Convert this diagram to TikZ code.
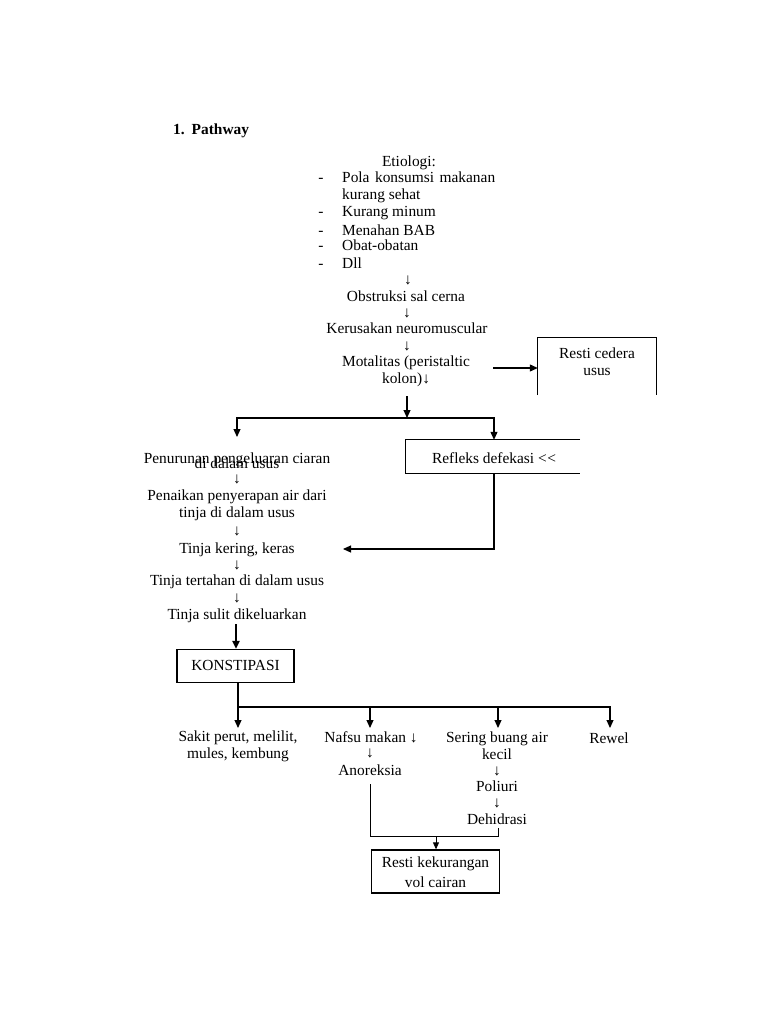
\documentclass[tikz,border=0pt]{standalone}
\usepackage{fontspec}
\setmainfont{Liberation Serif}
\usetikzlibrary{arrows.meta}
\tikzset{
  txtm/.style={inner sep=0pt, font=\fontsize{15.4}{17}\selectfont, align=center},
  txt/.style={txtm, text height=13pt, text depth=3pt},
  ln/.style={line width=1.1pt, line cap=rect},
  arr/.style={line width=1.1pt, -{Triangle[length=8pt,width=7pt]}},
  boxline/.style={line width=1.3pt},
}
\begin{document}
\begin{tikzpicture}[x=1pt,y=-1pt]
\useasboundingbox (0,0) rectangle (768,1024);
\fill[white] (0,0) rectangle (768,1024);

% title
\node[txt, anchor=west] (title) at (173,130) {\textbf{1.\hspace{7pt}Pathway}};

% etiologi
\node[txt] (etio) at (409,162) {Etiologi:};
\foreach \y/\t/\n in {178/{\hbox to 153pt{Pola\hfil konsumsi\hfil makanan}}/e1,
                      195/kurang sehat/e1b,
                      212/Kurang minum/e2,
                      231/Menahan BAB/e3,
                      245/Obat-obatan/e4,
                      263/Dll/e5}{
  \node[txt, anchor=west] (\n) at (342,\y) {\t};
}
\foreach \y/\n in {178/d1,212/d2,231/d3,245/d4,263/d5}{
  \node[txt] (\n) at (321,\y) {-};
}
\node[txt] (a0) at (408,279) {↓};
\node[txt] (obs) at (406,296) {Obstruksi sal cerna};
\node[txt] (a1) at (407,312) {↓};
\node[txt] (ker) at (407,328) {Kerusakan neuromuscular};
\node[txt] (a2) at (407,345) {↓};
\node[txtm] (mot) at (406,371) {Motalitas (peristaltic\\kolon)↓};

% Resti cedera usus box (open bottom)
\node[minimum width=118pt, minimum height=57pt, inner sep=0pt] (rc) at (597,366.5) {};
\draw[boxline] (rc.south west) -- (rc.north west) -- (rc.north east) -- (rc.south east);
\node[txtm] (rct) at (597,362) {Resti cedera\\usus};
\coordinate (mr) at (493,368);
\draw[arr] (mr) -- (rc.west |- mr);

% split
\coordinate (ms) at (407,396);
\coordinate (sp) at (407,418);
\coordinate (spl) at (237,418);
\coordinate (spr) at (494,418);
\draw[arr] (ms) -- (sp);
\draw[ln] (spl) -- (spr);

% Refleks box (open right)
\node[minimum width=174pt, minimum height=33pt, inner sep=0pt] (rf) at (493,456.5) {};
\draw[boxline] (rf.north east) -- (rf.north west) -- (rf.south west) -- (rf.south east);
\node[txt] (rft) at (494,458) {Refleks defekasi <\kern0.5pt<};
\draw[arr] (spr) -- (rf.north -| spr);

% left column
\node[txt] (pen) at (237,458) {Penurunan pengeluaran ciaran};
\node[txt] (pen2) at (237,463) {di dalam usus};
\coordinate (plt) at (237,437);
\draw[arr] (spl) -- (plt);
\node[txt] (b1) at (237,478) {↓};
\node[txtm] (pny) at (237,505) {Penaikan penyerapan air dari\\tinja di dalam usus};
\node[txt] (b2) at (237,530) {↓};
\node[txt] (tkk) at (237,548) {Tinja kering, keras};
\node[txt] (b3) at (237,564) {↓};
\node[txt] (ttd) at (237,580) {Tinja tertahan di dalam usus};
\node[txt] (b4) at (237,597) {↓};
\node[txt] (tsd) at (237,614) {Tinja sulit dikeluarkan};

\coordinate (rfin) at (343,549);
\draw[ln, -{Triangle[length=8pt,width=7pt]}] (rf.south -| spr) |- (rfin);

% KONSTIPASI
\node[draw, boxline, minimum width=117pt, minimum height=33pt, inner sep=0pt] (kon) at (235.5,666) {};
\node[txt] (kont) at (235.5,665) {KONSTIPASI};
\coordinate (ks) at (236,624);
\draw[line width=2pt, -{Triangle[length=8pt,width=7pt]}] (ks) -- (kon.north -| ks);

\coordinate (kb) at (238,707);
\coordinate (kbr) at (610,707);
\draw[ln] (kon.south -| kb) -- (kb) -- (kbr);
\foreach \x/\n in {238/t1,370/t2,498/t3,610/t4}{
  \coordinate (\n) at (\x,707);
  \draw[arr] (\n) -- (\x,728);
}

% bottom row
\node[txtm] (sak) at (238,746) {Sakit perut, melilit,\\mules, kembung};
\node[txt] (naf) at (371,737) {Nafsu makan ↓};
\node[txt] (c1) at (370,752) {↓};
\node[txt] (ano) at (370,770) {Anoreksia};
\node[txtm] (ser) at (497,745.5) {Sering buang air\\kecil};
\node[txt] (c2) at (497,770) {↓};
\node[txt] (pol) at (497,786) {Poliuri};
\node[txt] (c3) at (497,802) {↓};
\node[txt] (deh) at (497,819) {Dehidrasi};
\node[txt] (rew) at (609,738) {Rewel};

% Resti kekurangan
\node[draw, boxline, minimum width=128pt, minimum height=43pt, inner sep=0pt] (rk) at (435.5,871.5) {};
\node[txtm] (rkt) at (435.5,872) {Resti kekurangan\\[3pt]vol cairan};
\coordinate (al) at (370,784);
\coordinate (dr) at (498,828);
\draw[line width=0.8pt] (al) -- (370,836) -- (498,836) -- (dr);
\coordinate (rkin) at (436,836);
\draw[line width=0.8pt, -{Triangle[length=7pt,width=6pt]}] (rkin) -- (rk.north -| rkin);
\end{tikzpicture}
\end{document}
